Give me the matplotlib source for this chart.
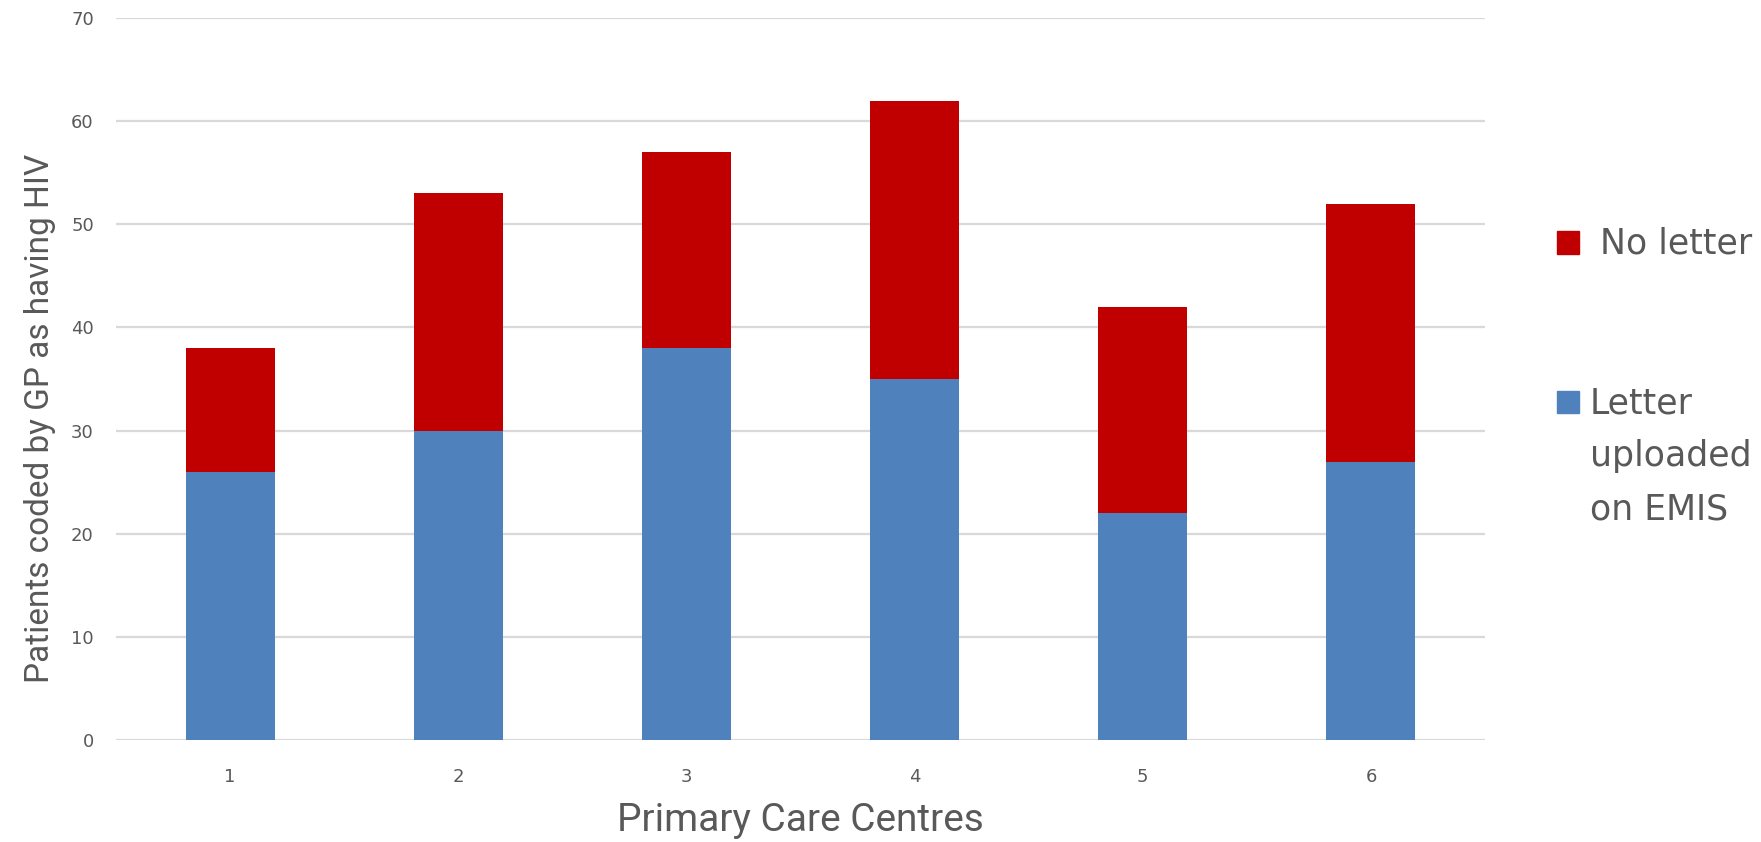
import matplotlib.pyplot as plt
from matplotlib.patches import Rectangle
import numpy as np

# Patients per centre, split by whether the letter is on EMIS
centres = ['1', '2', '3', '4', '5', '6']
letter_uploaded = [26, 30, 38, 35, 22, 27]
no_letter = [12, 23, 19, 27, 20, 25]

blue = '#4f81bd'
red = '#c00000'
grey_text = '#595959'
grid_col = '#d9d9d9'

label_font = ['Roboto', 'DejaVu Sans']

fig = plt.figure(figsize=(17.61, 8.42), dpi=100)
ax = fig.add_axes([0.0659, 0.1211, 0.7774, 0.8575])

x = np.arange(len(centres))
ax.bar(x, letter_uploaded, width=0.39, color=blue, zorder=3)
ax.bar(x, no_letter, width=0.39, bottom=letter_uploaded, color=red, zorder=3)

ax.set_xlim(-0.5, len(centres) - 0.5)
ax.set_ylim(0, 70)
ax.set_yticks(range(0, 71, 10))
ax.set_xticks(x)
ax.set_xticklabels(centres)
ax.yaxis.grid(True, color=grid_col, linewidth=1.6, zorder=0)
ax.set_axisbelow(True)
for s in ax.spines.values():
    s.set_visible(False)
ax.tick_params(length=0, labelsize=13, labelcolor=grey_text, pad=16)
ax.tick_params(axis='x', pad=20)

ax.set_ylabel('Patients coded by GP as having HIV', fontsize=24, color=grey_text,
              family=label_font, labelpad=11, y=0.446)
ax.set_xlabel('Primary Care Centres', fontsize=28, color=grey_text,
              family=label_font, labelpad=12)

# legend drawn by hand so the marker sits on the first text line
W, H = fig.get_size_inches() * fig.dpi
def fx(px):
    return px / W
def fy(py):
    return 1 - py / H

fig.patches.append(Rectangle((fx(1557), fy(254)), fx(22), 23 / H,
                             transform=fig.transFigure, color=red))
fig.patches.append(Rectangle((fx(1557), fy(413)), fx(22), 22 / H,
                             transform=fig.transFigure, color=blue))
fig.text(fx(1600), fy(243), 'No letter', fontsize=25, color=grey_text,
         va='center', ha='left')
fig.text(fx(1590), fy(386), 'Letter\nuploaded\non EMIS', fontsize=25,
         color=grey_text, va='top', ha='left', linespacing=1.72)

fig.savefig('out.png', dpi=100)
